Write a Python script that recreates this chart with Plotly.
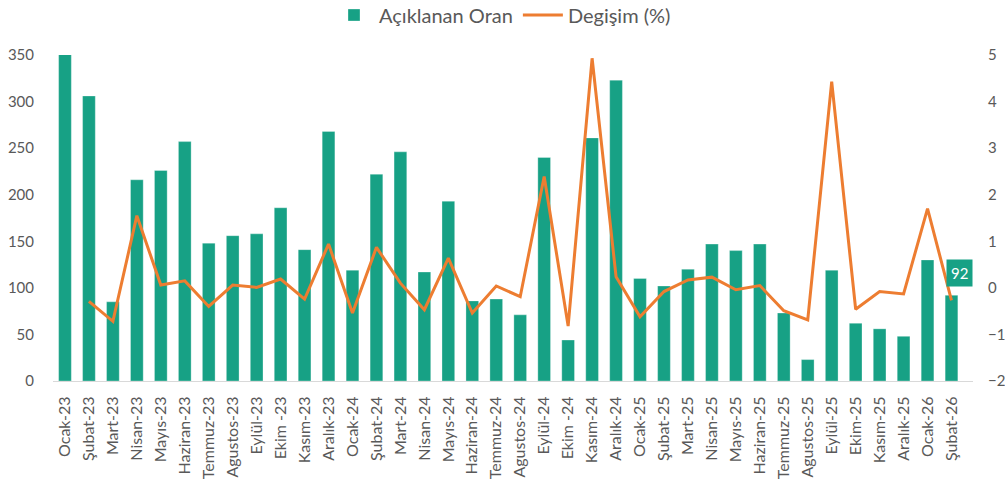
import plotly.graph_objects as go

categories = ["Ocak-23","Şubat-23","Mart-23","Nisan-23","Mayıs-23","Haziran-23","Temmuz-23","Agustos-23","Eylül-23","Ekim -23","Kasım-23","Aralık-23",
              "Ocak-24","Şubat-24","Mart-24","Nisan-24","Mayıs-24","Haziran-24","Temmuz-24","Agustos-24","Eylül-24","Ekim -24","Kasım-24","Aralık-24",
              "Ocak-25","Şubat-25","Mart-25","Nisan-25","Mayıs-25","Haziran-25","Temmuz-25","Agustos-25","Eylül-25","Ekim-25","Kasım-25","Aralık-25",
              "Ocak-26","Şubat-26"]
oran = [351, 306, 85, 216, 226, 257, 148, 156, 158, 186, 141, 268,
        119, 222, 246, 117, 193, 86, 88, 71, 240, 44, 261, 323,
        110, 102, 120, 147, 140, 147, 73, 23, 119, 62, 56, 48,
        130, 92]
degisim = [None, -0.29, -0.72, 1.55, 0.06, 0.15, -0.40, 0.06, 0.01, 0.19, -0.24, 0.94,
           -0.54, 0.87, 0.10, -0.47, 0.64, -0.54, 0.04, -0.19, 2.39, -0.82, 4.93, 0.24,
           -0.62, -0.08, 0.17, 0.23, -0.04, 0.05, -0.49, -0.69, 4.43, -0.46, -0.08, -0.13,
           1.70, -0.27]
left_ticks = [0, 50, 100, 150, 200, 250, 300, 350]
right_ticks = [-2, -1, 0, 1, 2, 3, 4, 5]

GREEN = "#17A185"
ORANGE = "#ED7D31"
GRAY = "#595959"
FONT = "Lato, 'Open Sans', sans-serif"

fig = go.Figure()
fig.add_trace(go.Bar(x=categories, y=oran, name="Açıklanan Oran",
                     marker=dict(color=GREEN, line=dict(color="rgba(255,255,255,0.6)", width=0.5))))
fig.add_trace(go.Scatter(x=categories, y=degisim, name="Degişim (%)", mode="lines",
                         line=dict(color=ORANGE, width=3), yaxis="y2"))

fig.add_annotation(x=categories[-1], y=oran[-1], xref="x", yref="y",
                   text=str(oran[-1]), showarrow=False, bgcolor=GREEN,
                   font=dict(color="white", size=15, family=FONT),
                   xshift=8, yshift=22, borderpad=4)

fig.update_layout(
    width=1005, height=482,
    margin=dict(l=53, r=32, t=55, b=101, autoexpand=False),
    plot_bgcolor="white", paper_bgcolor="white",
    bargap=0.47,
    font=dict(family=FONT, color=GRAY, size=15),
    showlegend=True,
    legend=dict(orientation="h", x=0.5, xanchor="center", xref="container",
                y=1 - 15 / 482, yanchor="middle", yref="container",
                font=dict(size=20, color=GRAY), itemwidth=40, traceorder="normal"),
    xaxis=dict(type="category", tickangle=-90, showgrid=False, showline=True,
               linecolor="#D9D9D9", linewidth=1, ticks="outside", ticklen=8,
               tickcolor="rgba(0,0,0,0)", tickfont=dict(size=16, color=GRAY)),
    yaxis=dict(range=[0, 350], tickvals=left_ticks, showgrid=False, zeroline=False,
               showline=False, ticks="outside", ticklen=15, tickcolor="rgba(0,0,0,0)",
               tickfont=dict(size=15, color=GRAY)),
    yaxis2=dict(range=[-2, 5], tickvals=right_ticks, overlaying="y", side="right",
                showgrid=False, zeroline=False, showline=False, ticks="outside",
                ticklen=11, tickcolor="rgba(0,0,0,0)", tickfont=dict(size=15, color=GRAY)),
)

fig.write_html("out.html", config={"displayModeBar": False},
               post_script="document.body.style.margin='0';")
